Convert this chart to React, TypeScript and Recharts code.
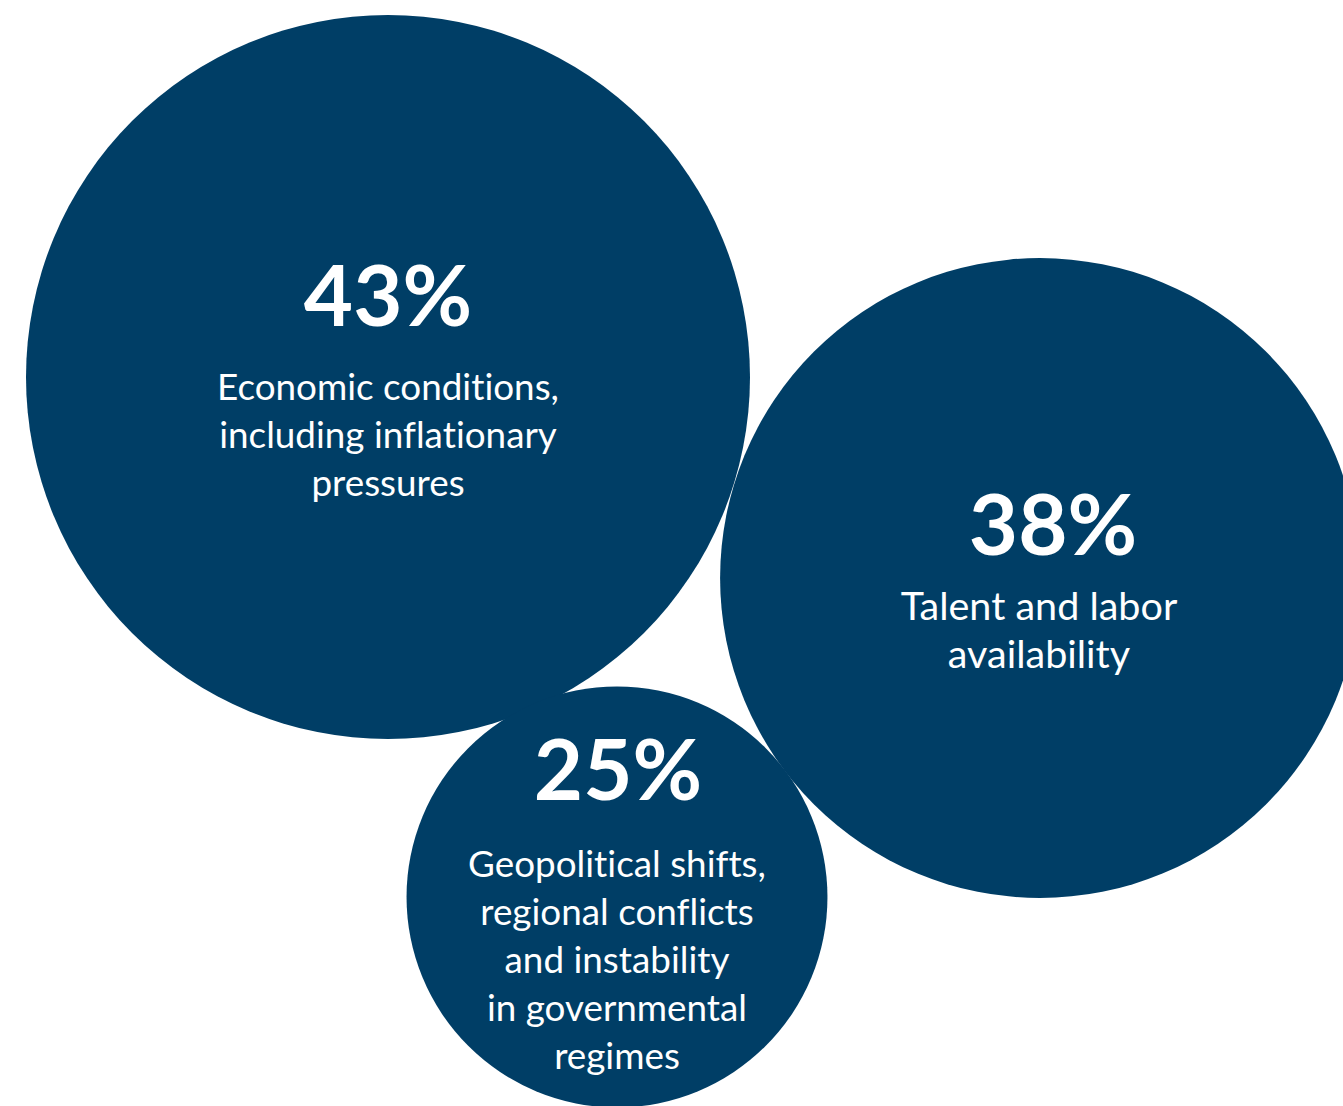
import React from 'react';
import { ScatterChart, Scatter, XAxis, YAxis, ZAxis } from 'recharts';

// survey: top concerns (share of respondents)
const categories = ['Economic conditions', 'Talent and labor', 'Geopolitical shifts'];
const shares = [43, 38, 25];
const labelLines = [
  ['Economic conditions,', 'including inflationary', 'pressures'],
  ['Talent and labor', 'availability'],
  ['Geopolitical shifts,', 'regional conflicts', 'and instability', 'in governmental', 'regimes'],
];

// layout only: bubble centres in page pixels and text offsets from the centre
const W = 1343;
const H = 1106;
const centres = [
  [388, 377],
  [1040, 578],
  [617, 897],
];
const textLayout = [
  { pctDx: 0, pctDy: -51, labelDx: 0, labelDy: 23, fontSize: 36.8, lineHeight: 48 },
  { pctDx: 13, pctDy: -23, labelDx: -1, labelDy: 42, fontSize: 39.5, lineHeight: 48 },
  { pctDx: 1, pctDy: -97, labelDx: 0, labelDy: -20, fontSize: 36.8, lineHeight: 48 },
];
const MAX_RADIUS = 362;
const NAVY = '#003E66';
const noLigatures = {
  fontVariantLigatures: 'none',
  fontFeatureSettings: '"liga" 0, "clig" 0, "dlig" 0, "calt" 0',
  letterSpacing: '0.01px',
} as React.CSSProperties;

const maxShare = Math.max(...shares);
const data = categories.map((name, i) => ({
  name,
  share: shares[i],
  area: shares[i] * shares[i], // radius grows with share, so size (area) with share^2
  x: centres[i][0],
  y: centres[i][1],
  idx: i,
}));

function Bubble(props: any) {
  const { cx, cy, size, payload } = props;
  const r = Math.sqrt(Math.max(size, 0) / Math.PI);
  const t = textLayout[payload.idx];
  const lines = labelLines[payload.idx];
  return (
    <g>
      <circle cx={cx} cy={cy} r={r} fill={NAVY} />
      <text
        x={cx + t.pctDx}
        y={cy + t.pctDy}
        textAnchor="middle"
        fill="#fff"
        fontFamily="Lato, sans-serif"
        fontWeight={700}
        fontSize={85}
      >
        {payload.share}%
      </text>
      {lines.map((line: string, j: number) => (
        <text
          key={j}
          x={cx + t.labelDx}
          y={cy + t.labelDy + j * t.lineHeight}
          textAnchor="middle"
          fill="#fff"
          fontFamily="Lato, sans-serif"
          fontSize={t.fontSize}
          style={noLigatures}
        >
          {line}
        </text>
      ))}
    </g>
  );
}

export default function App() {
  return (
    <div style={{ width: W, height: H, background: '#fff' }}>
      <style>{'body{margin:0}'}</style>
      <ScatterChart width={W} height={H} margin={{ top: 0, right: 0, bottom: 0, left: 0 }}>
        <XAxis type="number" dataKey="x" domain={[0, W]} hide />
        <YAxis type="number" dataKey="y" domain={[0, H]} reversed hide />
        <ZAxis
          type="number"
          dataKey="area"
          domain={[0, maxShare * maxShare]}
          range={[0, Math.PI * MAX_RADIUS * MAX_RADIUS]}
        />
        <Scatter data={data} shape={<Bubble />} isAnimationActive={false} />
      </ScatterChart>
    </div>
  );
}
